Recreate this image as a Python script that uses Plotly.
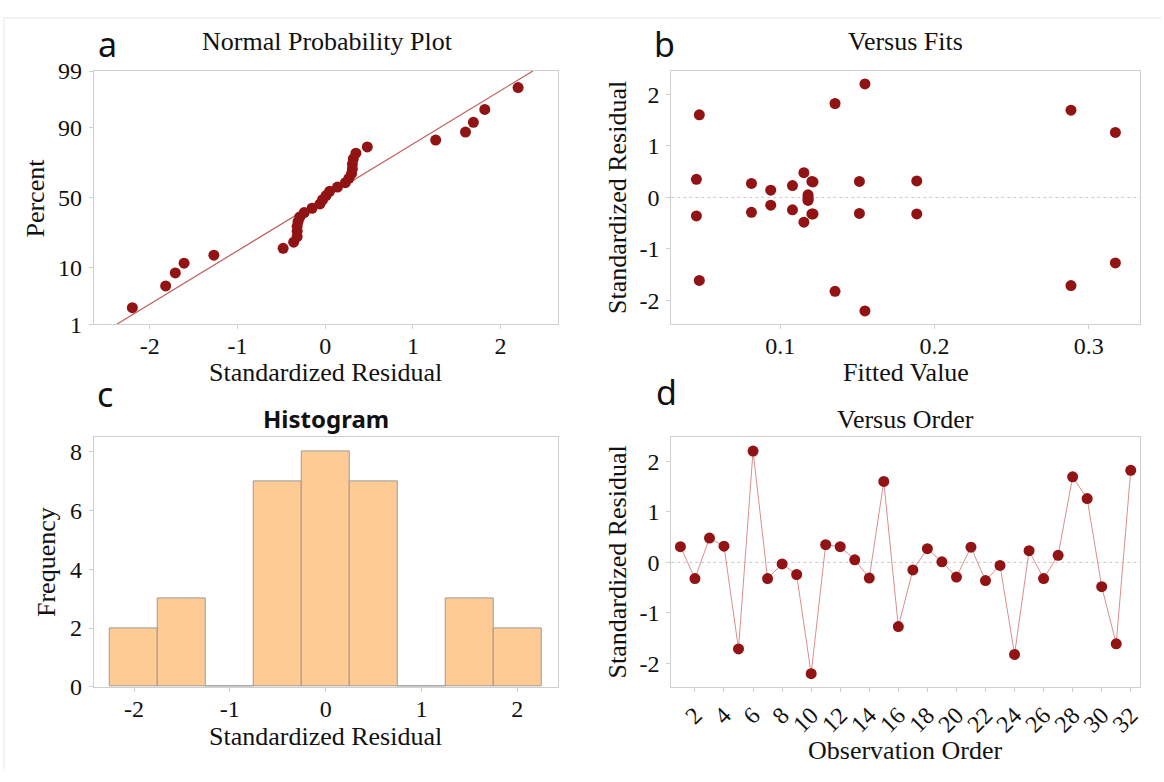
import plotly.graph_objects as go
from statistics import NormalDist
import numpy as np

# ---------------- data ----------------
observation_order = list(range(1, 33))
std_residuals = [0.31, -0.32, 0.48, 0.32, -1.71, 2.20, -0.32, -0.03, -0.24, -2.20,
                 0.35, 0.31, 0.05, -0.31, 1.60, -1.27, -0.15, 0.27, 0.01, -0.29,
                 0.30, -0.36, -0.06, -1.82, 0.23, -0.32, 0.14, 1.69, 1.26, -0.48,
                 -1.61, 1.82]
fitted_values = [0.1205, 0.1205, 0.1153, 0.1885, 0.2885, 0.1549, 0.1212, 0.1180, 0.1079, 0.1549,
                 0.0456, 0.1513, 0.1180, 0.1513, 0.0475, 0.3173, 0.0938, 0.0813, 0.1180, 0.0813,
                 0.1212, 0.0456, 0.1180, 0.1355, 0.1079, 0.1885, 0.0938, 0.2885, 0.3173, 0.1153,
                 0.0475, 0.1355]
hist_bin_centers = [-2.0, -1.5, -1.0, -0.5, 0.0, 0.5, 1.0, 1.5, 2.0]
hist_counts = [2, 3, 0, 7, 8, 7, 0, 3, 2]
prob_tick_percents = [1, 10, 50, 90, 99]
order_ticks = list(range(2, 33, 2))

# ---------------- styles ----------------
W, H = 1164, 782
SERIF = "Liberation Serif"
SANS = "Noto Sans"
DOT = "#911313"
FRAME = "#cfcfcf"
TXT = "#111111"

def px_x(x):
    return x / W

def px_y(y):
    return 1 - y / H

# frames (pixels): left, right, top, bottom
frames = {
    "a": (94, 559, 60, 322),
    "b": (673, 1143, 60, 322),
    "c": (94, 559, 439, 697),
    "d": (673, 1143, 439, 697),
}

def dom(f):
    l, r, t, b = f
    return [px_x(l), px_x(r)], [px_y(b), px_y(t)]

nd = NormalDist()
n = len(std_residuals)
sorted_res = sorted(std_residuals)
z_scores = [nd.inv_cdf((i - 0.3) / (n + 0.4)) for i in range(1, n + 1)]
mu = float(np.mean(std_residuals))
sd = float(np.std(std_residuals, ddof=1))
z_lo, z_hi = nd.inv_cdf(0.01), nd.inv_cdf(0.99)

fig = go.Figure()

# a: normal probability plot
fig.add_trace(go.Scatter(x=[mu + sd * z_lo, mu + sd * z_hi], y=[z_lo, z_hi], mode="lines",
                         line=dict(color="#c25a5a", width=1.2), xaxis="x", yaxis="y",
                         showlegend=False, hoverinfo="skip"))
fig.add_trace(go.Scatter(x=sorted_res, y=z_scores, mode="markers",
                         marker=dict(color=DOT, size=11), xaxis="x", yaxis="y", showlegend=False))

# b: versus fits
fig.add_trace(go.Scatter(x=fitted_values, y=std_residuals, mode="markers",
                         marker=dict(color=DOT, size=11), xaxis="x2", yaxis="y2", showlegend=False))

# c: histogram
fig.add_trace(go.Bar(x=hist_bin_centers, y=hist_counts, width=0.5,
                     marker=dict(color="#fecb95", line=dict(color="#9a9a9a", width=1)),
                     xaxis="x3", yaxis="y3", showlegend=False))

# d: versus order
fig.add_trace(go.Scatter(x=observation_order, y=std_residuals, mode="lines+markers",
                         line=dict(color="#d88f8f", width=1),
                         marker=dict(color=DOT, size=11), xaxis="x4", yaxis="y4", showlegend=False))

tickfont = dict(family=SERIF, size=24, color=TXT)
common_axis = dict(showline=True, mirror=True, linecolor=FRAME, linewidth=1,
                   showgrid=False, zeroline=False, ticks="outside", ticklen=4,
                   tickcolor=FRAME, tickfont=tickfont)
x_axis = dict(common_axis, ticklabelstandoff=-4)
y_axis = dict(common_axis, ticklabelstandoff=2)

xa, ya = dom(frames["a"])
xb, yb = dom(frames["b"])
xc, yc = dom(frames["c"])
xd, yd = dom(frames["d"])

fig.update_layout(
    width=W, height=H, margin=dict(l=0, r=0, t=0, b=0),
    paper_bgcolor="white", plot_bgcolor="white",
    xaxis=dict(domain=xa, anchor="y", range=[-2.64, 2.65], tickvals=[-2, -1, 0, 1, 2],
               ticktext=["-2", "-1", "0", "1", "2"], **x_axis),
    yaxis=dict(domain=ya, anchor="x", range=[z_lo, z_hi],
               tickvals=[nd.inv_cdf(p / 100) for p in prob_tick_percents],
               ticktext=[str(p) for p in prob_tick_percents], **y_axis),
    xaxis2=dict(domain=xb, anchor="y2", range=[0.0293, 0.3333], tickvals=[0.1, 0.2, 0.3],
                ticktext=["0.1", "0.2", "0.3"], **x_axis),
    yaxis2=dict(domain=yb, anchor="x2", range=[-2.46, 2.45], tickvals=[-2, -1, 0, 1, 2],
                ticktext=["-2", "-1", "0", "1", "2"], **y_axis),
    xaxis3=dict(domain=xc, anchor="y3", range=[-2.42, 2.42], tickvals=[-2, -1, 0, 1, 2],
                ticktext=["-2", "-1", "0", "1", "2"], **x_axis),
    yaxis3=dict(domain=yc, anchor="x3", range=[0, 8.49], tickvals=[0, 2, 4, 6, 8], **y_axis),
    xaxis4=dict(domain=xd, anchor="y4", range=[0.37, 32.64], tickvals=order_ticks,
                ticktext=[str(t) for t in order_ticks], tickangle=-45, **common_axis),
    yaxis4=dict(domain=yd, anchor="x4", range=[-2.46, 2.47], tickvals=[-2, -1, 0, 1, 2],
                ticktext=["-2", "-1", "0", "1", "2"], **y_axis),
    bargap=0,
)

# dotted zero reference lines
for xr, yr in [("x2", "y2"), ("x4", "y4")]:
    fig.add_shape(type="line", xref=f"{xr} domain", yref=yr, x0=0, x1=1, y0=0, y1=0,
                  line=dict(color="#c8c8c8", width=1, dash="dot"), layer="below")

# faint outer border (top and left)
fig.add_shape(type="line", xref="paper", yref="paper", x0=px_x(4), x1=1, y0=px_y(5), y1=px_y(5),
              line=dict(color="#e6e6e6", width=1))
fig.add_shape(type="line", xref="paper", yref="paper", x0=px_x(4), x1=px_x(4), y0=0, y1=px_y(5),
              line=dict(color="#e6e6e6", width=1))

def ann(text, x, y, size=26, family=SERIF, angle=0, bold=False, xanchor="center"):
    fig.add_annotation(text=f"<b>{text}</b>" if bold else text, x=px_x(x), y=px_y(y),
                       xref="paper", yref="paper", showarrow=False, textangle=angle,
                       xanchor=xanchor, yanchor="middle",
                       font=dict(family=family, size=size, color=TXT))

# panel letters
ann("a", 96, 32, size=34, family=SANS, xanchor="left")
ann("b", 654, 32, size=34, family=SANS, xanchor="left")
ann("c", 95, 394, size=34, family=SANS, xanchor="left")
ann("d", 656, 392, size=34, family=SANS, xanchor="left")

# titles
ann("Normal Probability Plot", 328, 29)
ann("Versus Fits", 908, 29)
ann("Histogram", 327, 419, size=24, family=SANS, bold=True)
ann("Versus Order", 908, 420)

# axis titles
ann("Standardized Residual", 326, 372)
ann("Fitted Value", 908, 372)
ann("Standardized Residual", 326, 748)
ann("Observation Order", 908, 763)
ann("Percent", 36, 191, angle=-90)
ann("Standardized Residual", 619, 191, angle=-90)
ann("Frequency", 46, 568, angle=-90)
ann("Standardized Residual", 619, 568, angle=-90)

fig.write_html("out.html")
